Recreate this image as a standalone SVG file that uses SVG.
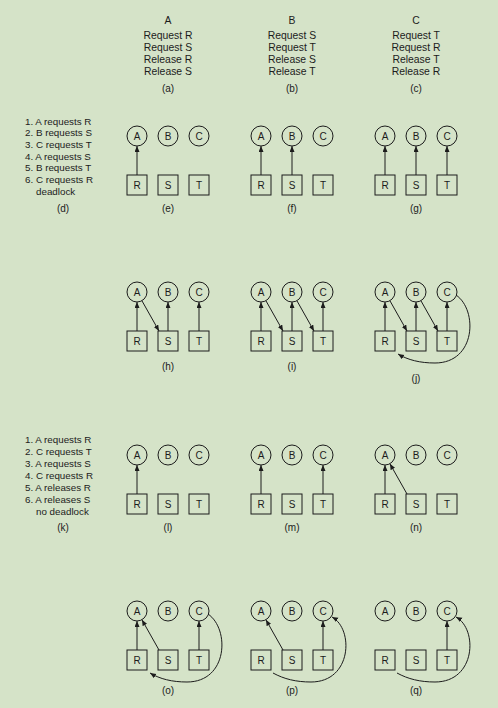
<svg xmlns="http://www.w3.org/2000/svg" width="498" height="708" viewBox="0 0 498 708">
<style>
text{font-family:"Liberation Sans",Arial,sans-serif;fill:#1c1c1c}
.hd{font-size:10.4px;text-anchor:middle}
.ls{font-size:9.8px}
.cap{font-size:10px;text-anchor:middle}
.nl{font-size:10px;text-anchor:middle}
circle.p{fill:none;stroke:#1c1c1c;stroke-width:1}
rect.r{fill:none;stroke:#1c1c1c;stroke-width:1}
.e{fill:none;stroke:#1c1c1c;stroke-width:1;marker-end:url(#ah)}
</style>
<defs>
<marker id="ah" markerUnits="userSpaceOnUse" markerWidth="7" markerHeight="6" refX="6" refY="2.5" orient="auto"><path d="M0,0 L6,2.5 L0,5 z" fill="#1c1c1c"/></marker>
<g id="nA"><circle class="p" cx="0" cy="0" r="10"/><text class="nl" x="0" y="3.6">A</text></g>
<g id="nB"><circle class="p" cx="31" cy="0" r="10"/><text class="nl" x="31" y="3.6">B</text></g>
<g id="nC"><circle class="p" cx="62" cy="0" r="10"/><text class="nl" x="62" y="3.6">C</text></g>
<g id="nR"><rect class="r" x="-10" y="39" width="20" height="20"/><text class="nl" x="0" y="52.6">R</text></g>
<g id="nS"><rect class="r" x="21" y="39" width="20" height="20"/><text class="nl" x="31" y="52.6">S</text></g>
<g id="nT"><rect class="r" x="52" y="39" width="20" height="20"/><text class="nl" x="62" y="52.6">T</text></g>
</defs>
<rect x="0" y="0" width="498" height="708" fill="#d5e3c8"/>

<g id="programs">
<g id="progA"><text class="hd" x="168" y="24.4">A</text><text class="hd" x="168" y="38.7">Request R</text><text class="hd" x="168" y="50.9">Request S</text><text class="hd" x="168" y="63">Release R</text><text class="hd" x="168" y="75.1">Release S</text><text class="cap" x="168" y="92.3">(a)</text></g>
<g id="progB"><text class="hd" x="292" y="24.4">B</text><text class="hd" x="292" y="38.7">Request S</text><text class="hd" x="292" y="50.9">Request T</text><text class="hd" x="292" y="63">Release S</text><text class="hd" x="292" y="75.1">Release T</text><text class="cap" x="292" y="92.3">(b)</text></g>
<g id="progC"><text class="hd" x="416" y="24.4">C</text><text class="hd" x="416" y="38.7">Request T</text><text class="hd" x="416" y="50.9">Request R</text><text class="hd" x="416" y="63">Release T</text><text class="hd" x="416" y="75.1">Release R</text><text class="cap" x="416" y="92.3">(c)</text></g>
</g>

<g id="seq-d">
<text class="ls" x="25" y="124.6">1. A requests R</text>
<text class="ls" x="25" y="136.3">2. B requests S</text>
<text class="ls" x="25" y="148">3. C requests T</text>
<text class="ls" x="25" y="159.7">4. A requests S</text>
<text class="ls" x="25" y="171.4">5. B requests T</text>
<text class="ls" x="25" y="183.1">6. C requests R</text>
<text class="ls" x="36" y="194.8">deadlock</text>
<text class="cap" x="63" y="212">(d)</text>
</g>
<g id="seq-k">
<text class="ls" x="25" y="442.6">1. A requests R</text>
<text class="ls" x="25" y="454.6">2. C requests T</text>
<text class="ls" x="25" y="466.6">3. A requests S</text>
<text class="ls" x="25" y="478.6">4. C requests R</text>
<text class="ls" x="25" y="490.6">5. A releases R</text>
<text class="ls" x="25" y="502.6">6. A releases S</text>
<text class="ls" x="36" y="514.6">no deadlock</text>
<text class="cap" x="63" y="531">(k)</text>
</g>

<g id="graphs">
<g id="g-e" transform="translate(137,136)"><g id="e-A"><use href="#nA"/></g><g id="e-B"><use href="#nB"/></g><g id="e-C"><use href="#nC"/></g><g id="e-R"><use href="#nR"/></g><g id="e-S"><use href="#nS"/></g><g id="e-T"><use href="#nT"/></g></g>
<g id="g-f" transform="translate(261,136)"><g id="f-A"><use href="#nA"/></g><g id="f-B"><use href="#nB"/></g><g id="f-C"><use href="#nC"/></g><g id="f-R"><use href="#nR"/></g><g id="f-S"><use href="#nS"/></g><g id="f-T"><use href="#nT"/></g></g>
<g id="g-g" transform="translate(385,136)"><g id="g-A"><use href="#nA"/></g><g id="g-B"><use href="#nB"/></g><g id="g-C"><use href="#nC"/></g><g id="g-R"><use href="#nR"/></g><g id="g-S"><use href="#nS"/></g><g id="g-T"><use href="#nT"/></g></g>
<g id="g-h" transform="translate(137,292)"><g id="h-A"><use href="#nA"/></g><g id="h-B"><use href="#nB"/></g><g id="h-C"><use href="#nC"/></g><g id="h-R"><use href="#nR"/></g><g id="h-S"><use href="#nS"/></g><g id="h-T"><use href="#nT"/></g></g>
<g id="g-i" transform="translate(261,292)"><g id="i-A"><use href="#nA"/></g><g id="i-B"><use href="#nB"/></g><g id="i-C"><use href="#nC"/></g><g id="i-R"><use href="#nR"/></g><g id="i-S"><use href="#nS"/></g><g id="i-T"><use href="#nT"/></g></g>
<g id="g-j" transform="translate(385,292)"><g id="j-A"><use href="#nA"/></g><g id="j-B"><use href="#nB"/></g><g id="j-C"><use href="#nC"/></g><g id="j-R"><use href="#nR"/></g><g id="j-S"><use href="#nS"/></g><g id="j-T"><use href="#nT"/></g></g>
<g id="g-l" transform="translate(137,455)"><g id="l-A"><use href="#nA"/></g><g id="l-B"><use href="#nB"/></g><g id="l-C"><use href="#nC"/></g><g id="l-R"><use href="#nR"/></g><g id="l-S"><use href="#nS"/></g><g id="l-T"><use href="#nT"/></g></g>
<g id="g-m" transform="translate(261,455)"><g id="m-A"><use href="#nA"/></g><g id="m-B"><use href="#nB"/></g><g id="m-C"><use href="#nC"/></g><g id="m-R"><use href="#nR"/></g><g id="m-S"><use href="#nS"/></g><g id="m-T"><use href="#nT"/></g></g>
<g id="g-n" transform="translate(385,455)"><g id="n-A"><use href="#nA"/></g><g id="n-B"><use href="#nB"/></g><g id="n-C"><use href="#nC"/></g><g id="n-R"><use href="#nR"/></g><g id="n-S"><use href="#nS"/></g><g id="n-T"><use href="#nT"/></g></g>
<g id="g-o" transform="translate(137,611)"><g id="o-A"><use href="#nA"/></g><g id="o-B"><use href="#nB"/></g><g id="o-C"><use href="#nC"/></g><g id="o-R"><use href="#nR"/></g><g id="o-S"><use href="#nS"/></g><g id="o-T"><use href="#nT"/></g></g>
<g id="g-p" transform="translate(261,611)"><g id="p-A"><use href="#nA"/></g><g id="p-B"><use href="#nB"/></g><g id="p-C"><use href="#nC"/></g><g id="p-R"><use href="#nR"/></g><g id="p-S"><use href="#nS"/></g><g id="p-T"><use href="#nT"/></g></g>
<g id="g-q" transform="translate(385,611)"><g id="q-A"><use href="#nA"/></g><g id="q-B"><use href="#nB"/></g><g id="q-C"><use href="#nC"/></g><g id="q-R"><use href="#nR"/></g><g id="q-S"><use href="#nS"/></g><g id="q-T"><use href="#nT"/></g></g>
</g>

<g id="connectors">
<g transform="translate(137,136)"><line class="e" x1="0" y1="39" x2="0" y2="10"/></g>
<g transform="translate(261,136)"><line class="e" x1="0" y1="39" x2="0" y2="10"/><line class="e" x1="31" y1="39" x2="31" y2="10"/></g>
<g transform="translate(385,136)"><line class="e" x1="0" y1="39" x2="0" y2="10"/><line class="e" x1="31" y1="39" x2="31" y2="10"/><line class="e" x1="62" y1="39" x2="62" y2="10"/></g>
<g transform="translate(137,292)"><line class="e" x1="0" y1="39" x2="0" y2="10"/><line class="e" x1="31" y1="39" x2="31" y2="10"/><line class="e" x1="62" y1="39" x2="62" y2="10"/><line class="e" x1="4.9" y1="8.7" x2="22" y2="39"/></g>
<g transform="translate(261,292)"><line class="e" x1="0" y1="39" x2="0" y2="10"/><line class="e" x1="31" y1="39" x2="31" y2="10"/><line class="e" x1="62" y1="39" x2="62" y2="10"/><line class="e" x1="4.9" y1="8.7" x2="22" y2="39"/><line class="e" x1="35.9" y1="8.7" x2="53" y2="39"/></g>
<g transform="translate(385,292)"><line class="e" x1="0" y1="39" x2="0" y2="10"/><line class="e" x1="31" y1="39" x2="31" y2="10"/><line class="e" x1="62" y1="39" x2="62" y2="10"/><line class="e" x1="4.9" y1="8.7" x2="22" y2="39"/><line class="e" x1="35.9" y1="8.7" x2="53" y2="39"/><path class="e" d="M71,3 C93,18 91,71 50,71 C35,71 23,68 13,62"/></g>
<g transform="translate(137,455)"><line class="e" x1="0" y1="39" x2="0" y2="10"/></g>
<g transform="translate(261,455)"><line class="e" x1="0" y1="39" x2="0" y2="10"/><line class="e" x1="62" y1="39" x2="62" y2="10"/></g>
<g transform="translate(385,455)"><line class="e" x1="0" y1="39" x2="0" y2="10"/><line class="e" x1="22" y1="39" x2="4.9" y2="8.7"/></g>
<g transform="translate(137,611)"><line class="e" x1="0" y1="39" x2="0" y2="10"/><line class="e" x1="22" y1="39" x2="4.9" y2="8.7"/><line class="e" x1="62" y1="39" x2="62" y2="10"/><path class="e" d="M71,3 C93,18 91,71 50,71 C35,71 23,68 13,62"/></g>
<g transform="translate(261,611)"><line class="e" x1="22" y1="39" x2="4.9" y2="8.7"/><line class="e" x1="62" y1="39" x2="62" y2="10"/><path class="e" d="M12,62 C23,68 35,71 50,71 C91,71 93,18 71,6"/></g>
<g transform="translate(385,611)"><line class="e" x1="62" y1="39" x2="62" y2="10"/><path class="e" d="M12,62 C23,68 35,71 50,71 C91,71 93,18 71,6"/></g>
</g>

<g id="captions">
<text class="cap" x="168" y="212">(e)</text>
<text class="cap" x="292" y="212">(f)</text>
<text class="cap" x="416" y="212">(g)</text>
<text class="cap" x="168" y="369.5">(h)</text>
<text class="cap" x="292" y="369.5">(i)</text>
<text class="cap" x="416" y="381.5">(j)</text>
<text class="cap" x="168" y="531">(l)</text>
<text class="cap" x="292" y="531">(m)</text>
<text class="cap" x="416" y="531">(n)</text>
<text class="cap" x="168" y="693.5">(o)</text>
<text class="cap" x="292" y="693.5">(p)</text>
<text class="cap" x="416" y="693.5">(q)</text>
</g>
</svg>
